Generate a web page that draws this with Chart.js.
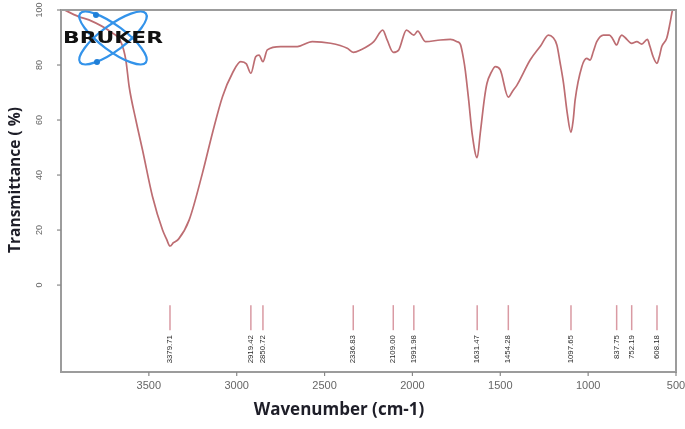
<!DOCTYPE html>
<html><head><meta charset="utf-8">
<script src="https://cdn.jsdelivr.net/npm/chart.js@4.4.1/dist/chart.umd.min.js"></script>
<style>html,body{margin:0;padding:0;background:#fff;}#wrap{width:685px;height:429px;}</style>
</head><body><div id="wrap"><canvas id="c" width="685" height="429"></canvas></div>
<script>
// ---- data ----
const wavenumbers = [3995, 3900, 3841, 3716, 3659, 3631, 3612, 3574, 3536, 3479, 3422, 3400, 3379.71, 3360, 3330, 3271, 3195, 3138, 3081, 3024, 2977, 2945, 2919.42, 2892, 2873, 2850.72, 2826, 2750, 2655, 2570, 2466, 2371, 2336.83, 2295, 2220, 2169, 2144, 2109, 2078, 2034, 1992, 1970, 1926, 1841, 1784, 1746, 1727, 1708, 1699, 1680, 1660, 1631.47, 1614, 1590, 1576, 1550, 1528, 1500, 1454.28, 1430, 1405, 1330, 1270, 1226, 1200, 1178, 1160, 1140, 1120, 1097.65, 1085, 1074, 1036, 1008, 989, 970, 951, 913, 879, 860, 837.75, 820, 809, 790, 752.19, 723, 695, 663, 648, 630, 608.18, 595, 581, 553, 534, 520, 505];
const transmittance = [100.5, 97.6, 96.4, 92.0, 88.4, 81.8, 72.1, 60.0, 49.1, 32.1, 20.0, 16.8, 14.2, 15.4, 16.8, 23.6, 40.7, 55.3, 68.5, 77.1, 81.2, 80.4, 77.0, 83.0, 83.6, 81.2, 85.5, 86.7, 86.7, 88.5, 87.9, 86.1, 84.6, 85.5, 88.5, 92.7, 89.1, 84.6, 85.5, 92.7, 90.9, 92.3, 88.5, 89.1, 89.3, 88.5, 87.5, 81.8, 78.0, 67.3, 55.0, 46.3, 55.2, 68.0, 73.3, 77.5, 79.4, 78.2, 68.3, 70.5, 72.7, 81.8, 87.0, 90.9, 90.0, 87.3, 81.0, 73.3, 63.0, 55.5, 60.0, 67.3, 79.4, 82.4, 81.8, 85.0, 88.5, 90.9, 90.9, 89.5, 87.3, 90.0, 90.9, 90.0, 87.9, 88.5, 87.6, 89.3, 86.7, 83.0, 80.6, 83.0, 86.7, 89.7, 95.2, 100.0, 103.0];
const peakPositions = [3379.71, 2919.42, 2850.72, 2336.83, 2109.00, 1991.98, 1631.47, 1454.28, 1097.65, 837.75, 752.19, 608.18];
const peakLabels = ["3379.71", "2919.42", "2850.72", "2336.83", "2109.00", "1991.98", "1631.47", "1454.28", "1097.65", "837.75", "752.19", "608.18"];
const xTickValues = [3500, 3000, 2500, 2000, 1500, 1000, 500];
const yTickValues = [0, 20, 40, 60, 80, 100];
const xTitle = "Wavenumber (cm-1)";
const yTitle = "Transmittance ( %)";
const logoText = "BRUKER";

const points = wavenumbers.map((w, i) => ({x: w, y: transmittance[i]}));

const decor = {
  id: 'decor',
  afterDraw(chart) {
    const ctx = chart.ctx, a = chart.chartArea, xs = chart.scales.x, ys = chart.scales.y;
    ctx.save();
    // frame
    ctx.strokeStyle = '#9c9c9c'; ctx.lineWidth = 2;
    ctx.beginPath();
    ctx.moveTo(a.left, a.top); ctx.lineTo(a.right, a.top); ctx.lineTo(a.right, a.bottom);
    ctx.lineTo(a.left, a.bottom); ctx.closePath(); ctx.stroke();
    // y ticks
    ctx.lineWidth = 1.2; ctx.strokeStyle = '#888';
    ctx.fillStyle = '#666'; ctx.font = '9px "Liberation Sans", Arial, sans-serif';
    yTickValues.forEach(v => {
      const py = ys.getPixelForValue(v);
      ctx.beginPath(); ctx.moveTo(a.left - 4, py); ctx.lineTo(a.left, py); ctx.stroke();
      ctx.save(); ctx.translate(a.left - 21, py); ctx.rotate(-Math.PI / 2);
      ctx.textAlign = 'center'; ctx.textBaseline = 'middle'; ctx.fillText(String(v), 0, 0);
      ctx.restore();
    });
    // x ticks
    ctx.font = '11px "Liberation Sans", Arial, sans-serif'; ctx.fillStyle = '#666';
    xTickValues.forEach(v => {
      const px = xs.getPixelForValue(v);
      ctx.beginPath(); ctx.moveTo(px, a.bottom); ctx.lineTo(px, a.bottom + 4); ctx.stroke();
      ctx.textAlign = 'center'; ctx.textBaseline = 'middle'; ctx.fillText(String(v), px, a.bottom + 14);
    });
    // peak markers
    const yTop = ys.getPixelForValue(-7.3), yBot = ys.getPixelForValue(-16.4), yLab = ys.getPixelForValue(-18.2);
    ctx.strokeStyle = '#d99aa3'; ctx.lineWidth = 1.5;
    ctx.fillStyle = '#2a2a2a'; ctx.font = '7.8px "Liberation Sans", Arial, sans-serif';
    peakPositions.forEach((p, i) => {
      const px = xs.getPixelForValue(p);
      ctx.beginPath(); ctx.moveTo(px, yTop); ctx.lineTo(px, yBot); ctx.stroke();
      ctx.save(); ctx.translate(px, yLab); ctx.rotate(-Math.PI / 2);
      ctx.textAlign = 'right'; ctx.textBaseline = 'middle'; ctx.fillText(peakLabels[i], 0, 0);
      ctx.restore();
    });
    // titles
    ctx.fillStyle = '#1e1e28';
    ctx.font = 'bold 17px "Open Sans", "DejaVu Sans", sans-serif';
    ctx.textAlign = 'center'; ctx.textBaseline = 'middle';
    ctx.fillText(xTitle, 339, 410);
    ctx.save(); ctx.translate(16, 180); ctx.rotate(-Math.PI / 2);
    ctx.font = 'bold 15.5px "Open Sans", "DejaVu Sans", sans-serif';
    ctx.fillText(yTitle, 0, 0);
    ctx.restore();
    // logo
    const cx = 113, cy = 38;
    ctx.strokeStyle = '#3393ea'; ctx.lineWidth = 2.2;
    [0.64, -0.64].forEach(ang => {
      ctx.beginPath(); ctx.ellipse(cx, cy, 41, 12.5, ang, 0, Math.PI * 2); ctx.stroke();
    });
    ctx.fillStyle = '#1f7fd8';
    [[96, 15], [97, 62]].forEach(d => { ctx.beginPath(); ctx.arc(d[0], d[1], 3, 0, Math.PI * 2); ctx.fill(); });
    ctx.fillStyle = '#111';
    ctx.font = 'bold 16px "DejaVu Sans", sans-serif';
    const w = ctx.measureText(logoText).width;
    ctx.save(); ctx.translate(63, 39); ctx.scale(100 / w, 1);
    ctx.textAlign = 'left'; ctx.textBaseline = 'middle'; ctx.fillText(logoText, 0, 0);
    ctx.restore();
    ctx.restore();
  }
};

new Chart(document.getElementById('c'), {
  type: 'line',
  data: { datasets: [{ data: points, borderColor: '#bd6d72', borderWidth: 1.7, pointRadius: 0, fill: false, cubicInterpolationMode: 'monotone' }] },
  options: {
    responsive: false, animation: false, devicePixelRatio: 1,
    layout: { padding: { left: 61, right: 9, top: 10, bottom: 57 } },
    plugins: { legend: { display: false }, tooltip: { enabled: false } },
    scales: {
      x: { type: 'linear', min: 500, max: 4000, reverse: true, display: false },
      y: { type: 'linear', min: -31.6, max: 100, display: false }
    }
  },
  plugins: [decor]
});
</script></body></html>
